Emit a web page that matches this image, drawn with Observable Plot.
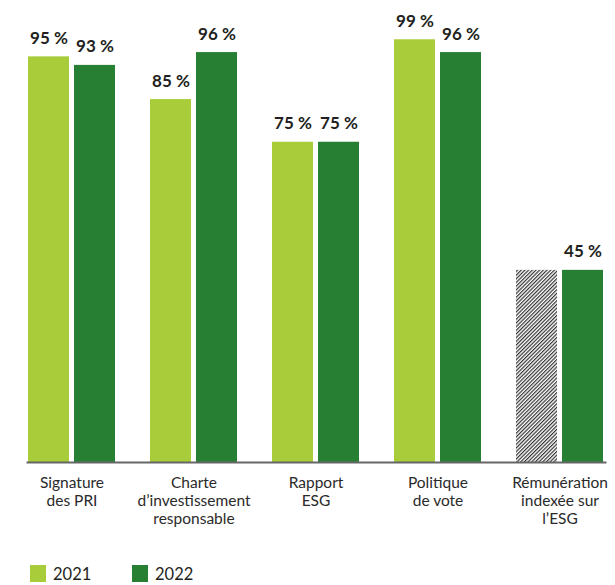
<!DOCTYPE html>
<html><head><meta charset="utf-8">
<script src="https://cdn.jsdelivr.net/npm/d3@7"></script>
<script src="https://cdn.jsdelivr.net/npm/@observablehq/plot@0.6"></script>
<style>
body{margin:0;background:#fff;font-family:Lato,"Noto Sans",sans-serif;}
#wrap{position:relative;width:615px;height:585px;}
#legend{position:absolute;left:0;top:565px;height:17px;font-size:16.5px;color:#231f20;}
.item{position:absolute;top:0;height:17px;display:flex;align-items:center;white-space:nowrap;}
.sw{width:16px;height:17px;margin-right:7px;}
</style></head><body>
<div id="wrap"><div id="chart"></div><div id="legend"></div></div>
<script>
const categories = ["Signature des PRI","Charte d’investissement responsable","Rapport ESG","Politique de vote","Rémunération indexée sur l’ESG"];
const categoryLabels = ["Signature\ndes PRI","Charte\nd’investissement\nresponsable","Rapport\nESG","Politique\nde vote","Rémunération\nindexée sur\nl’ESG"];
const years = ["2021","2022"];
const values2021 = [95, 85, 75, 99, null];
const values2022 = [93, 96, 75, 96, 45];
const colors = ["#a9cd3a", "#267f32"];

const rows = [];
categories.forEach((c, i) => {
  rows.push({category: c, year: "2021", value: values2021[i], ref: values2022[i]});
  rows.push({category: c, year: "2022", value: values2022[i], ref: values2022[i]});
});
const known = rows.filter(d => d.value != null);
const missing = rows.filter(d => d.value == null);

const plot = Plot.plot({
  width: 615,
  height: 545,
  marginLeft: 27,
  marginRight: 11,
  marginTop: 35,
  marginBottom: 83,
  style: {fontFamily: "Lato, 'Noto Sans', sans-serif", background: "#fff"},
  fx: {domain: categories, paddingInner: 0.29, paddingOuter: 0, axis: null, label: null},
  x: {domain: years, paddingInner: 0.109, paddingOuter: 0, axis: null, label: null},
  y: {domain: [0, 100], axis: null, label: null},
  color: {domain: years, range: colors},
  marks: [
    Plot.barY(known, {fx: "category", x: "year", y: "value", fill: "year"}),
    Plot.barY(missing, {fx: "category", x: "year", y: "ref", fill: "url(#hatch)"}),
    Plot.frame({anchor: "bottom", facet: "super", stroke: "#666", strokeWidth: 2, insetLeft: -1, insetRight: -2}),
    Plot.text(known, {fx: "category", x: "year", y: "value", text: d => `${d.value}\u202F%`,
      lineAnchor: "bottom", dy: -13, fontSize: 17, fontWeight: 700, fill: "#231f20"}),
    Plot.text(categories, {fx: d => d, text: (d, i) => categoryLabels[i], frameAnchor: "bottom",
      lineAnchor: "top", dy: 13, fontSize: 15.5, lineHeight: 1.16, fill: "#2a2a2a"})
  ]
});

const defs = d3.create("svg:defs");
const pat = defs.append("pattern").attr("id", "hatch").attr("patternUnits", "userSpaceOnUse")
  .attr("width", 2.6).attr("height", 2.6).attr("patternTransform", "rotate(45)");
pat.append("rect").attr("width", 2.6).attr("height", 2.6).attr("fill", "#fff");
pat.append("line").attr("x1", 0.6).attr("y1", 0).attr("x2", 0.6).attr("y2", 2.6)
  .attr("stroke", "#333").attr("stroke-width", 1.2);
plot.insertBefore(defs.node(), plot.firstChild);
document.getElementById("chart").appendChild(plot);

const legend = document.getElementById("legend");
const legendX = [30, 132];
years.forEach((y, i) => {
  const it = document.createElement("div");
  it.className = "item";
  it.style.left = legendX[i] + "px";
  it.innerHTML = `<div class="sw" style="background:${colors[i]}"></div><span>${y}</span>`;
  legend.appendChild(it);
});
</script></body></html>
